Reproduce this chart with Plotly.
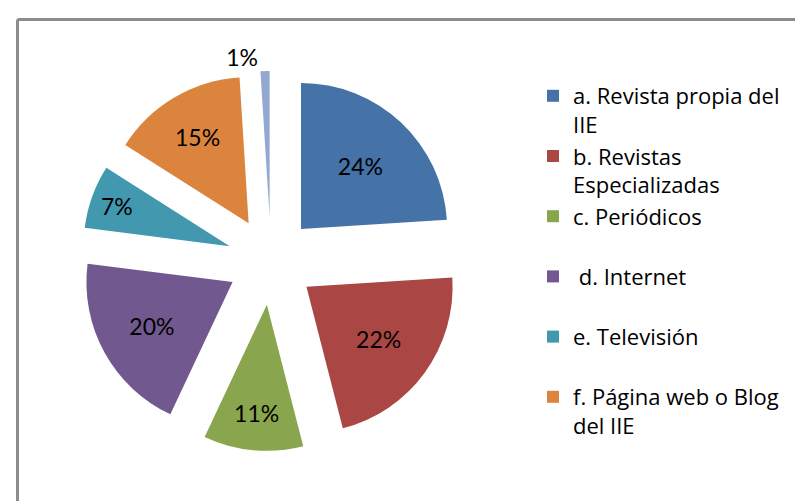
import plotly.graph_objects as go

labels = ["a. Revista propia del IIE", "b. Revistas Especializadas", "c. Periódicos",
          " d. Internet", "e. Televisión", "f. Página web o Blog del IIE", "g."]
legend_labels = ["a. Revista propia del<br>IIE", "b. Revistas<br>Especializadas",
                 "c. Periódicos<br> ", " d. Internet<br> ", "e. Televisión<br> ",
                 "f. Página web o Blog<br>del IIE"]
values = [24, 22, 11, 20, 7, 15, 1]
colors = ["#4572A7", "#AA4643", "#89A54E", "#71588F", "#4198AF", "#DB843D", "#93A9D2"]

W, H = 803, 501
cx, cy, half = 263, 253, 190

fig = go.Figure()
fig.add_trace(go.Pie(
    labels=labels, values=values, sort=False, direction="clockwise", rotation=0,
    pull=0.3, marker=dict(colors=colors, line=dict(width=0)),
    texttemplate="%{percent:.0%}", textposition=["inside"] * 6 + ["outside"],
    insidetextorientation="horizontal",
    textfont=dict(family="Lato", size=23, color="#000000"),
    showlegend=False, hoverinfo="label+percent",
    domain=dict(x=[(cx - half) / W, (cx + half) / W], y=[1 - (cy + half) / H, 1 - (cy - half) / H]),
))
for lab, col in zip(legend_labels, colors):
    fig.add_trace(go.Scatter(x=[None], y=[None], mode="markers", name=lab,
                             marker=dict(symbol="square", size=12, color=col)))

fig.update_layout(
    width=W, height=H, margin=dict(l=0, r=0, t=0, b=0, autoexpand=False),
    paper_bgcolor="white", plot_bgcolor="white",
    xaxis=dict(visible=False), yaxis=dict(visible=False),
    legend=dict(x=525 / W, y=1 - 67 / H, xanchor="left", yanchor="top", valign="top",
                font=dict(family="Open Sans", size=22, color="#000000"), tracegroupgap=0,
                bgcolor="rgba(0,0,0,0)"),
    shapes=[
        dict(type="line", xref="paper", yref="paper", x0=9.5 / W, x1=1.2, y0=1 - 11.5 / H, y1=1 - 11.5 / H,
             line=dict(color="#8C8C8C", width=3)),
        dict(type="line", xref="paper", yref="paper", x0=9.5 / W, x1=9.5 / W, y0=1 - 11.5 / H, y1=-0.2,
             line=dict(color="#8C8C8C", width=3)),
    ],
)
fig.write_html("out.html")
